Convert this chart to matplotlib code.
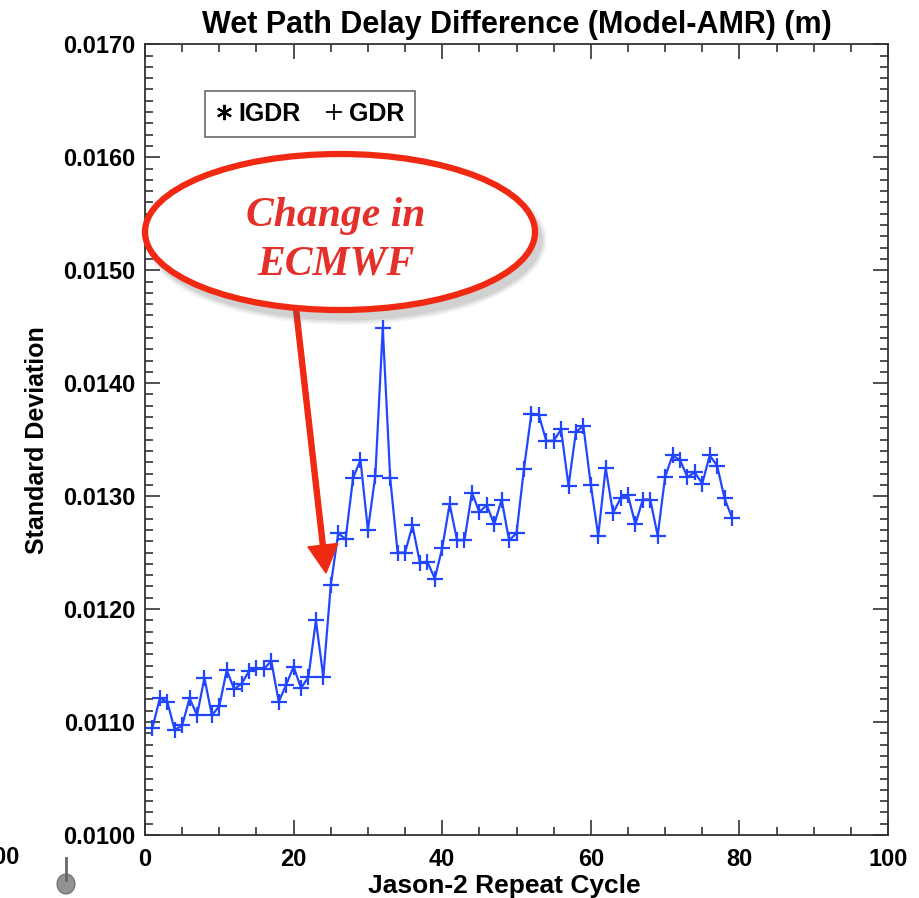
import numpy as np
import matplotlib
matplotlib.use("Agg")
import matplotlib.pyplot as plt
from matplotlib.patches import Ellipse, FancyArrow
from matplotlib.lines import Line2D
from matplotlib.ticker import MultipleLocator, FormatStrFormatter

plt.rcParams['font.family'] = ['Liberation Sans', 'DejaVu Sans']

# Jason-2 repeat cycles and the std dev of wet path delay difference (Model-AMR)
cycles = np.arange(1, 80)
gdr_std = [
    0.01095, 0.01121, 0.01118, 0.01093, 0.01097, 0.01121, 0.01106, 0.01139, 0.01106, 0.01114,
    0.01146, 0.01129, 0.01134, 0.01145, 0.01148, 0.01147, 0.01154, 0.01118, 0.01133, 0.01149,
    0.01130, 0.01140, 0.01190, 0.01140, 0.01221, 0.01267, 0.01262, 0.01316, 0.01332, 0.01270,
    0.01318, 0.01449, 0.01316, 0.01250, 0.01250, 0.01274, 0.01241, 0.01242, 0.01227, 0.01254,
    0.01293, 0.01261, 0.01261, 0.01303, 0.01286, 0.01292, 0.01275, 0.01297, 0.01261, 0.01267,
    0.01324, 0.01373, 0.01372, 0.01349, 0.01349, 0.01359, 0.01309, 0.01357, 0.01362, 0.01310,
    0.01265, 0.01325, 0.01285, 0.01298, 0.01301, 0.01275, 0.01297, 0.01297, 0.01265, 0.01317,
    0.01336, 0.01332, 0.01317, 0.01321, 0.01311, 0.01336, 0.01327, 0.01298, 0.01281,
]
legend_labels = ['IGDR', 'GDR']
callout_text = 'Change in\nECMWF'

W, H = 919, 898
fig = plt.figure(figsize=(W / 100, H / 100), dpi=100)
ax = fig.add_axes([145 / W, 1 - 835 / H, 743 / W, (835 - 44.3) / H])

blue = '#2246ff'
ax.plot(cycles, gdr_std, color=blue, lw=1.6, marker='+', ms=11, mew=1.6)

ax.set_xlim(0, 100)
ax.set_ylim(0.0100, 0.0170)
ax.xaxis.set_major_locator(MultipleLocator(20))
ax.xaxis.set_minor_locator(MultipleLocator(5))
ax.yaxis.set_major_locator(MultipleLocator(0.001))
ax.yaxis.set_minor_locator(MultipleLocator(0.0001))
ax.yaxis.set_major_formatter(FormatStrFormatter('%.4f'))
ax.tick_params(which='both', direction='in', top=True, right=True, color='#333333')
ax.tick_params(which='major', length=11, width=1.2, labelsize=17, pad=9)
ax.tick_params(axis='y', which='major', pad=7)
ax.tick_params(which='minor', length=5.5, width=1.2)
for lab in ax.get_xticklabels() + ax.get_yticklabels():
    lab.set_fontweight('bold')
for sp in ax.spines.values():
    sp.set_linewidth(1.3)
    sp.set_color('#333333')

ax.set_title('Wet Path Delay Difference (Model-AMR) (m)', fontsize=22, fontweight='bold', pad=8)
ax.set_xlabel('Jason-2 Repeat Cycle', fontsize=19, fontweight='bold')
ax.xaxis.set_label_coords(0.483, -0.049)
ax.set_ylabel('Standard Deviation', fontsize=18, fontweight='bold', labelpad=10)

# IDL-style legend box
handles = [Line2D([], [], ls='none', marker=(6, 2, 0), color='black', ms=11, mew=1.5),
           Line2D([], [], ls='none', marker='+', color='black', ms=11, mew=1.3)]
leg = ax.legend(handles, legend_labels, ncol=2, loc='upper left',
                bbox_to_anchor=(0.064, 0.957), handlelength=0.6, handletextpad=0.3,
                columnspacing=1.0, fancybox=False, edgecolor='#444444',
                prop={'size': 18, 'weight': 'bold'}, borderpad=0.45)
leg.get_frame().set_linewidth(1.2)

# overlay in pixel coordinates for the callout
ov = fig.add_axes([0, 0, 1, 1])
ov.set_xlim(0, W)
ov.set_ylim(H, 0)
ov.axis('off')
ov.patch.set_visible(False)

red = '#f02a12'
ov.add_patch(FancyArrow(295, 300, 326 - 295, 573 - 300, width=5, head_width=30,
                        head_length=28, length_includes_head=True,
                        color=red, zorder=2))
for k, a in enumerate([0.05, 0.06, 0.08, 0.1]):
    ov.add_patch(Ellipse((346, 240), 392 + 10 - 3 * k, 160 + 10 - 3 * k,
                         facecolor='#555555', edgecolor='none', alpha=a, zorder=3))
ov.add_patch(Ellipse((340, 232), 390, 156, facecolor='white', edgecolor=red,
                     lw=4.5, zorder=4))
ov.text(336, 240, callout_text, ha='center', va='center', color='#e4302a',
        fontsize=30, fontweight='bold', fontstyle='italic',
        family=['Liberation Serif', 'DejaVu Serif'], linespacing=1.35, zorder=5)

# small cursor glyph left over in the corner
ov.add_patch(Ellipse((66, 884), 18, 20, facecolor='#777777', edgecolor='#555555',
                     lw=0.8, alpha=0.8, zorder=2))
ov.plot([66, 66], [858, 880], color='#666666', lw=2, zorder=3)

# clipped tick label from the neighbouring panel
fig.text(20 / W, 1 - 858 / H, '100', ha='right', va='center', fontsize=17, fontweight='bold')

fig.savefig('out.png', dpi=100)
